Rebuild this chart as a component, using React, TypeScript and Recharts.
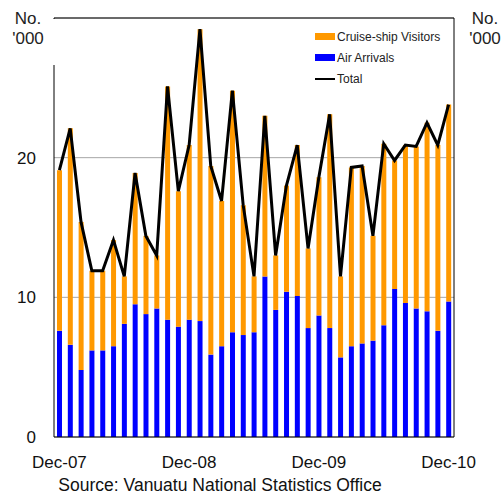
import { Bar, CartesianGrid, ComposedChart, Legend, Line, ReferenceLine, XAxis, YAxis } from "recharts"

const months = [
  "Dec-07", "Jan-08", "Feb-08", "Mar-08", "Apr-08", "May-08", "Jun-08", "Jul-08", "Aug-08", "Sep-08", "Oct-08", "Nov-08",
  "Dec-08", "Jan-09", "Feb-09", "Mar-09", "Apr-09", "May-09", "Jun-09", "Jul-09", "Aug-09", "Sep-09", "Oct-09", "Nov-09",
  "Dec-09", "Jan-10", "Feb-10", "Mar-10", "Apr-10", "May-10", "Jun-10", "Jul-10", "Aug-10", "Sep-10", "Oct-10", "Nov-10",
  "Dec-10",
]

// thousands of visitors
const airArrivals = [
  7.6, 6.6, 4.8, 6.2, 6.2, 6.5, 8.1, 9.5, 8.8, 9.2, 8.4, 7.9,
  8.4, 8.3, 5.9, 6.5, 7.5, 7.3, 7.5, 11.5, 9.1, 10.4, 10.1, 7.8,
  8.7, 7.8, 5.7, 6.5, 6.7, 6.9, 8.0, 10.6, 9.6, 9.2, 9.0, 7.6,
  9.7,
]

const cruiseVisitors = [
  11.5, 15.5, 10.6, 5.7, 5.7, 7.6, 3.4, 9.4, 5.6, 3.8, 16.7, 9.7,
  12.5, 20.9, 13.5, 10.4, 17.3, 9.3, 4.0, 11.5, 3.9, 7.6, 10.8, 5.7,
  9.9, 15.3, 5.8, 12.8, 12.7, 7.5, 13.0, 9.2, 11.3, 11.6, 13.5, 13.3,
  14.1,
]

const yTicks = [0, 10, 20]

const ORANGE = "#FF9900"
const BLUE = "#0000FF"
const FONT = "'Liberation Sans', Arial, sans-serif"

const data = months.map((month, i) => ({
  month,
  air: airArrivals[i],
  cruise: cruiseVisitors[i],
  total: Math.round((airArrivals[i] + cruiseVisitors[i]) * 10) / 10,
}))

const legendItems = [
  { label: "Cruise-ship Visitors", color: ORANGE, kind: "bar" },
  { label: "Air Arrivals", color: BLUE, kind: "bar" },
  { label: "Total", color: "#000", kind: "line" },
]

function LegendBox() {
  return (
    <div style={{ fontFamily: FONT, fontSize: 12, color: "#222" }}>
      {legendItems.map((item) => (
        <div key={item.label} style={{ display: "flex", alignItems: "center", height: 21 }}>
          <span
            style={{
              display: "inline-block",
              width: 20,
              height: item.kind === "bar" ? 7 : 2,
              background: item.color,
              marginRight: 2,
            }}
          />
          {item.label}
        </div>
      ))}
    </div>
  )
}

const unitStyle = {
  position: "absolute" as const,
  top: 9,
  width: 50,
  textAlign: "center" as const,
  fontFamily: FONT,
  fontSize: 17,
  lineHeight: "20px",
  color: "#222",
}

export default function App() {
  return (
    <div style={{ position: "absolute", left: 0, top: 0, width: 502, height: 497, background: "#fff" }}>
      <ComposedChart
        width={502}
        height={497}
        data={data}
        margin={{ top: 18, right: 0, left: 0, bottom: 0 }}
        style={{ fontFamily: FONT }}
      >
        <CartesianGrid vertical={false} stroke="#a6a6a6" yAxisId="left" />
        <XAxis
          dataKey="month"
          interval={11}
          height={60}
          tickLine={false}
          tickMargin={13}
          axisLine={{ stroke: "#000" }}
          tick={{ fill: "#111", fontSize: 17 }}
        />
        <YAxis
          yAxisId="left"
          domain={[0, 30]}
          ticks={yTicks}
          width={54}
          tickLine={false}
          tickMargin={12}
          axisLine={{ stroke: "#000" }}
          tick={{ fill: "#111", fontSize: 17 }}
        />
        <YAxis
          yAxisId="right"
          orientation="right"
          domain={[0, 30]}
          ticks={yTicks}
          width={48}
          tickLine={false}
          tickMargin={11}
          axisLine={{ stroke: "#000" }}
          tick={{ fill: "#111", fontSize: 17, textAnchor: "start" }}
        />
        <ReferenceLine yAxisId="left" y={30} stroke="#000" />
        <Bar yAxisId="left" dataKey="air" name="Air Arrivals" stackId="a" fill={BLUE} barSize={5} isAnimationActive={false} />
        <Bar yAxisId="left" dataKey="cruise" name="Cruise-ship Visitors" stackId="a" fill={ORANGE} barSize={5} isAnimationActive={false} />
        <Line
          yAxisId="left"
          type="linear"
          dataKey="total"
          name="Total"
          stroke="#000"
          strokeWidth={3}
          dot={false}
          isAnimationActive={false}
        />
        <Legend
          layout="horizontal"
          verticalAlign="middle"
          content={() => <LegendBox />}
          wrapperStyle={{ top: 26, left: 315, width: 140, height: 64 }}
        />
      </ComposedChart>
      {/* the left frame line stops short of the top in the original */}
      <div style={{ position: "absolute", left: 52, top: 19, width: 4, height: 46, background: "#fff" }} />
      <div style={{ ...unitStyle, left: 3 }}>
        No.
        <br />
        '000
      </div>
      <div style={{ ...unitStyle, left: 460 }}>
        No.
        <br />
        '000
      </div>
      <div
        style={{
          position: "absolute",
          top: 476,
          left: 0,
          width: 440,
          textAlign: "center",
          fontFamily: FONT,
          fontSize: 17.5,
          lineHeight: "18px",
          color: "#111",
        }}
      >
        Source: Vanuatu National Statistics Office
      </div>
    </div>
  )
}
